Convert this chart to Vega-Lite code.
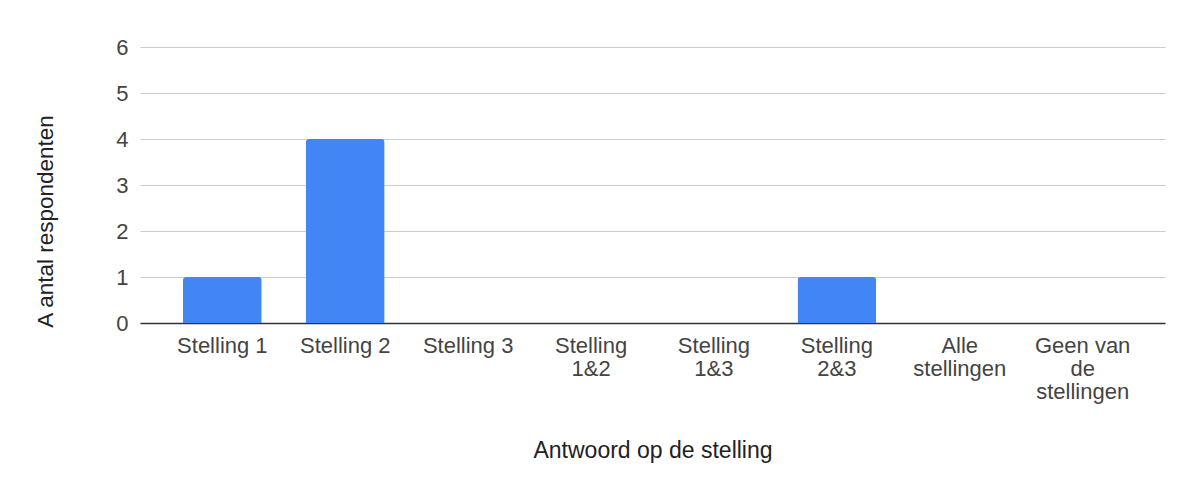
{
  "$schema": "https://vega.github.io/schema/vega-lite/v6.json",
  "width": 1025,
  "height": 276,
  "autosize": {"type": "none"},
  "padding": {"left": 140, "top": 47, "right": 20, "bottom": 157},
  "background": "#ffffff",
  "config": {
    "view": {"stroke": null},
    "font": "Liberation Sans"
  },
  "data": {
    "values": [
      {"antwoord": "Stelling 1", "aantal": 1},
      {"antwoord": "Stelling 2", "aantal": 4},
      {"antwoord": "Stelling 3", "aantal": 0},
      {"antwoord": "Stelling 1&2", "aantal": 0},
      {"antwoord": "Stelling 1&3", "aantal": 0},
      {"antwoord": "Stelling 2&3", "aantal": 1},
      {"antwoord": "Alle stellingen", "aantal": 0},
      {"antwoord": "Geen van de stellingen", "aantal": 0}
    ]
  },
  "mark": {
    "type": "bar",
    "color": "#4285F4",
    "cornerRadiusTopLeft": 3,
    "cornerRadiusTopRight": 3
  },
  "encoding": {
    "x": {
      "field": "antwoord",
      "type": "nominal",
      "sort": null,
      "scale": {"paddingInner": 0.36, "paddingOuter": 0.35},
      "axis": {
        "title": "Antwoord op de stelling",
        "titleFontSize": 23,
        "titleFontWeight": "normal",
        "titleColor": "#222222",
        "titleBaseline": "alphabetic",
        "titleY": 134,
        "labelAngle": 0,
        "labelFontSize": 22,
        "labelColor": "#444444",
        "labelLineHeight": 23,
        "labelPadding": 12,
        "labelBaseline": "top",
        "labelExpr": "datum.value == 'Stelling 1&2' ? ['Stelling', '1&2'] : datum.value == 'Stelling 1&3' ? ['Stelling', '1&3'] : datum.value == 'Stelling 2&3' ? ['Stelling', '2&3'] : datum.value == 'Alle stellingen' ? ['Alle', 'stellingen'] : datum.value == 'Geen van de stellingen' ? ['Geen van', 'de', 'stellingen'] : datum.value",
        "ticks": false,
        "tickSize": 0,
        "domain": true,
        "domainColor": "#333333",
        "domainWidth": 1.5,
        "grid": false
      }
    },
    "y": {
      "field": "aantal",
      "type": "quantitative",
      "scale": {"domain": [0, 6], "nice": false},
      "axis": {
        "title": "A antal respondenten",
        "titleFontSize": 22.5,
        "titleFontWeight": "normal",
        "titleColor": "#222222",
        "titleBaseline": "alphabetic",
        "titleX": -88,
        "titleY": 174,
        "values": [0, 1, 2, 3, 4, 5, 6],
        "labelFontSize": 22,
        "labelColor": "#444444",
        "labelPadding": 12,
        "ticks": false,
        "tickSize": 0,
        "domain": false,
        "grid": true,
        "gridColor": "#cccccc",
        "gridWidth": 1
      }
    }
  }
}
